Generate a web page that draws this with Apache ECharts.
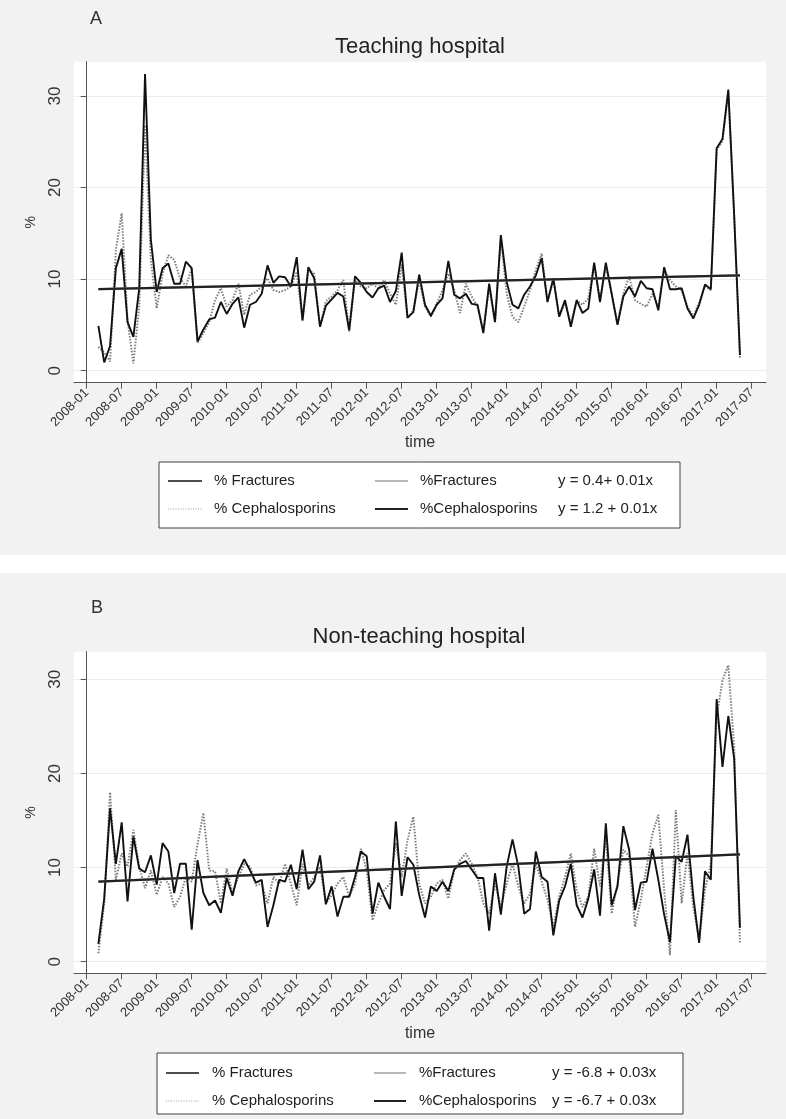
<!DOCTYPE html>
<html><head><meta charset="utf-8">
<script src="https://cdn.jsdelivr.net/npm/echarts@6/dist/echarts.min.js"></script>
<style>html,body{margin:0;padding:0;background:#f2f2f2}#c{width:786px;height:1119px}</style>
</head><body><div id="c"></div>
<script>
// ---------------- data ----------------
const startMonth = '2008-03';
const xTickLabels = ['2008-01','2008-07','2009-01','2009-07','2010-01','2010-07','2011-01','2011-07','2012-01','2012-07',
  '2013-01','2013-07','2014-01','2014-07','2015-01','2015-07','2016-01','2016-07','2017-01','2017-07'];
const yTickValues = [0, 10, 20, 30];

const teachFractures = [4.9,0.9,2.7,11.2,13.3,5.3,3.7,9.0,32.4,14.3,8.6,11.2,11.7,9.5,9.5,11.9,11.2,3.2,4.5,5.6,
  5.8,7.5,6.2,7.3,8.0,4.7,7.2,7.5,8.4,11.5,9.6,10.3,10.2,9.2,12.4,5.5,11.3,10.1,4.8,7.1,
  7.8,8.5,8.1,4.4,10.3,9.6,8.6,8.0,9.0,9.3,7.5,8.7,12.9,5.8,6.4,10.5,7.2,6.0,7.2,7.9,
  12.0,8.3,7.9,8.4,7.3,7.2,4.1,9.5,5.3,14.8,9.7,7.2,6.8,8.3,9.2,10.4,12.3,7.5,10.1,5.9,
  7.7,4.8,7.7,6.3,6.8,11.8,7.5,11.8,8.4,5.0,8.1,9.2,8.1,9.8,9.0,8.9,6.6,11.3,8.9,8.9,
  9.0,6.8,5.7,7.2,9.4,8.9,24.3,25.3,30.7,17.0,1.7];
const teachCephalosporins = [2.6,2.0,1.0,13.2,17.2,5.5,0.8,7.0,26.8,12.1,6.8,10.6,12.6,12.1,10.1,9.2,11.2,3.0,4.1,5.3,
  7.7,9.0,7.0,7.7,9.5,6.1,8.3,8.6,9.2,10.1,8.8,8.6,8.8,9.2,10.8,5.5,11.0,10.6,4.8,7.6,
  8.1,8.8,9.9,4.3,9.9,9.2,9.0,9.5,9.0,9.9,8.4,7.2,11.6,5.7,6.6,9.9,7.0,5.9,7.3,8.8,
  10.6,8.8,6.3,9.5,8.1,7.0,4.4,9.2,5.3,14.5,8.4,5.9,5.3,7.0,8.8,11.0,12.8,7.6,9.9,5.9,
  7.5,5.1,7.7,7.2,7.9,11.7,7.7,11.4,8.4,5.1,8.4,10.3,7.7,7.3,7.0,8.4,7.0,11.0,9.9,9.2,
  8.8,7.0,5.9,7.5,9.2,8.8,24.1,25.1,30.4,17.0,1.3];
const nonTeachFractures = [1.9,6.7,16.3,10.4,14.8,6.4,13.3,9.9,9.5,11.3,8.2,12.6,11.7,7.3,10.4,10.4,3.4,10.8,7.3,6.0,
  6.5,5.2,8.9,7.0,9.6,10.9,9.7,8.4,8.7,3.7,6.0,8.7,8.5,10.3,7.7,11.9,7.7,8.5,11.3,6.1,
  8.0,4.8,6.9,6.9,9.0,11.7,11.2,5.1,8.4,6.9,5.6,14.9,7.0,11.1,10.3,7.1,4.7,8.0,7.5,8.5,
  7.5,9.8,10.4,10.7,9.8,8.9,8.9,3.3,9.4,5.0,10.1,13.0,10.1,5.1,5.6,11.7,9.0,8.5,2.8,6.5,
  8.0,10.4,6.0,4.7,6.7,9.8,4.9,14.7,6.0,8.0,14.4,11.9,5.5,8.4,8.5,12.0,8.7,5.0,2.1,11.2,
  10.6,13.5,6.9,2.0,9.6,8.7,27.9,20.7,26.1,21.6,3.6];
const nonTeachCephalosporins = [0.9,6.2,18.0,8.7,11.5,10.1,14.0,10.1,7.8,9.7,7.1,9.0,8.3,5.8,6.9,9.0,8.5,12.5,15.8,9.7,
  9.6,6.2,9.9,7.3,9.0,10.4,10.1,8.1,8.3,6.2,9.0,8.3,10.4,8.3,6.0,10.4,8.1,9.0,10.1,6.2,
  7.1,8.3,9.0,6.9,8.3,12.0,9.7,4.4,6.2,7.6,8.3,12.6,9.0,12.9,15.4,8.3,6.2,6.9,8.3,8.7,
  6.7,9.7,10.8,11.5,10.4,9.0,6.2,5.1,8.3,5.8,8.3,10.4,8.0,6.2,7.2,10.4,8.5,6.6,3.7,6.9,
  9.0,11.5,7.6,5.8,6.9,12.0,8.0,13.3,5.1,8.3,11.9,11.2,3.7,6.6,10.1,13.6,15.6,7.6,0.7,16.1,
  6.2,11.5,5.8,2.3,7.6,10.4,26.0,29.9,31.5,22.8,1.9];

const trendMonths = ['2008-03', '2017-05'];
const teachTrendFractures = [8.9, 10.4];
const teachTrendCephalosporins = [8.9, 10.4];
const nonTeachTrendFractures = [8.5, 11.4];
const nonTeachTrendCephalosporins = [8.5, 11.4];

const legendTextA = ['% Fractures', '%Fractures', 'y = 0.4+ 0.01x', '% Cephalosporins', '%Cephalosporins', 'y = 1.2 + 0.01x'];
const legendTextB = ['% Fractures', '%Fractures', 'y = -6.8 + 0.03x', '% Cephalosporins', '%Cephalosporins', 'y = -6.7 + 0.03x'];

// ---------------- helpers ----------------
function monthIndex(s) { const p = s.split('-').map(Number); return (p[0] - 2008) * 12 + (p[1] - 1); }
const start = monthIndex(startMonth);
const xTickValues = xTickLabels.map(monthIndex);
function pts(arr) { return arr.map((v, i) => [start + i, v]); }
function trendPts(arr) { return arr.map((v, i) => [monthIndex(trendMonths[i]), v]); }

const FONT = '"Liberation Sans", Arial, sans-serif';
const AX = '#555';

function xAxisFor(gi) {
  return {
    type: 'value', gridIndex: gi, min: -2.18, max: 116.46,
    name: 'time', nameLocation: 'middle', nameGap: 52,
    nameTextStyle: { fontSize: 16, color: '#333', fontFamily: FONT },
    axisLine: { show: true, onZero: false, lineStyle: { color: AX, width: 1 } },
    axisTick: { show: true, length: 6, customValues: xTickValues, lineStyle: { color: AX } },
    axisLabel: { customValues: xTickValues, rotate: 45, fontSize: 13, color: '#333', margin: 8, fontFamily: FONT,
      formatter: v => xTickLabels[xTickValues.indexOf(Math.round(v))] || '' },
    splitLine: { show: false }
  };
}
function yAxisFor(gi, min, max) {
  return {
    type: 'value', gridIndex: gi, min: min, max: max,
    name: '%', nameLocation: 'middle', nameGap: 36, nameRotate: 90,
    nameTextStyle: { fontSize: 14, color: '#333', fontFamily: FONT },
    axisLine: { show: true, lineStyle: { color: AX, width: 1 } },
    axisTick: { show: true, length: 6, customValues: yTickValues, lineStyle: { color: AX } },
    axisLabel: { customValues: yTickValues, rotate: 90, fontSize: 17, color: '#333', margin: 10, fontFamily: FONT },
    splitLine: { show: true, lineStyle: { color: '#ececec', width: 1 } }
  };
}
function lineSeries(gi, data, style, z) {
  return { type: 'line', xAxisIndex: gi, yAxisIndex: gi, data: data, showSymbol: false, symbol: 'none',
    lineStyle: style, z: z, silent: true, animation: false };
}

function legendGraphics(box, rows, cols, texts) {
  const g = [];
  g.push({ type: 'rect', shape: { x: box[0], y: box[1], width: box[2], height: box[3] },
    style: { fill: '#fff', stroke: '#404040', lineWidth: 1 } });
  const samples = [
    { stroke: '#111', lineWidth: 1.5 }, { stroke: '#a0a0a0', lineWidth: 1.5 },
    { stroke: '#9a9a9a', lineWidth: 1.2, lineDash: [1, 1.5] }, { stroke: '#222', lineWidth: 2 }
  ];
  for (let r = 0; r < 2; r++) {
    for (let c = 0; c < 2; c++) {
      const s = samples[r * 2 + c];
      g.push({ type: 'line', shape: { x1: cols.s[c][0], y1: rows[r], x2: cols.s[c][1], y2: rows[r] }, style: s });
    }
    for (let c = 0; c < 3; c++) {
      g.push({ type: 'text', x: cols.t[c], y: rows[r],
        style: { text: texts[r * 3 + c], fontSize: 15, fill: '#222', fontFamily: FONT, verticalAlign: 'middle' } });
    }
  }
  return g;
}

// ---------------- chart ----------------
const chart = echarts.init(document.getElementById('c'), null, { renderer: 'canvas' });
const DOT = { color: '#7d7d7d', width: 2, type: [1.5, 1.5] };
const option = {
  backgroundColor: '#f2f2f2',
  animation: false,
  grid: [
    { left: 74, top: 61.7, width: 692, height: 321, show: true, backgroundColor: '#fff', borderWidth: 0, containLabel: false },
    { left: 74, top: 651.7, width: 692, height: 321.6, show: true, backgroundColor: '#fff', borderWidth: 0, containLabel: false }
  ],
  xAxis: [xAxisFor(0), xAxisFor(1)],
  yAxis: [yAxisFor(0, -1.31, 33.74), yAxisFor(1, -1.23, 32.93)],
  series: [
    lineSeries(0, pts(teachCephalosporins), DOT, 2),
    lineSeries(0, pts(teachFractures), { color: '#111', width: 1.9 }, 3),
    lineSeries(0, trendPts(teachTrendFractures), { color: '#9a9a9a', width: 2.2 }, 4),
    lineSeries(0, trendPts(teachTrendCephalosporins), { color: '#222', width: 2.2 }, 5),
    lineSeries(1, pts(nonTeachCephalosporins), DOT, 2),
    lineSeries(1, pts(nonTeachFractures), { color: '#111', width: 1.9 }, 3),
    lineSeries(1, trendPts(nonTeachTrendFractures), { color: '#9a9a9a', width: 2.2 }, 4),
    lineSeries(1, trendPts(nonTeachTrendCephalosporins), { color: '#222', width: 2.2 }, 5)
  ],
  graphic: [].concat(
    [{ type: 'rect', shape: { x: 0, y: 555, width: 786, height: 18 }, style: { fill: '#fff' } },
     { type: 'text', x: 90, y: 19, style: { text: 'A', fontSize: 18, fill: '#333', fontFamily: FONT, verticalAlign: 'middle' } },
     { type: 'text', x: 420, y: 47, style: { text: 'Teaching hospital', fontSize: 22, fill: '#222', fontFamily: FONT, align: 'center', verticalAlign: 'middle' } },
     { type: 'text', x: 91, y: 608, style: { text: 'B', fontSize: 18, fill: '#333', fontFamily: FONT, verticalAlign: 'middle' } },
     { type: 'text', x: 419, y: 637, style: { text: 'Non-teaching hospital', fontSize: 22, fill: '#222', fontFamily: FONT, align: 'center', verticalAlign: 'middle' } }
    ],
    legendGraphics([159, 462, 521, 66], [481, 509], { s: [[168, 202], [375, 408]], t: [214, 420, 558] }, legendTextA),
    legendGraphics([157, 1053, 526, 61], [1073, 1101], { s: [[166, 199], [374, 406]], t: [212, 419, 552] }, legendTextB)
  )
};
chart.setOption(option);
</script>
</body></html>
